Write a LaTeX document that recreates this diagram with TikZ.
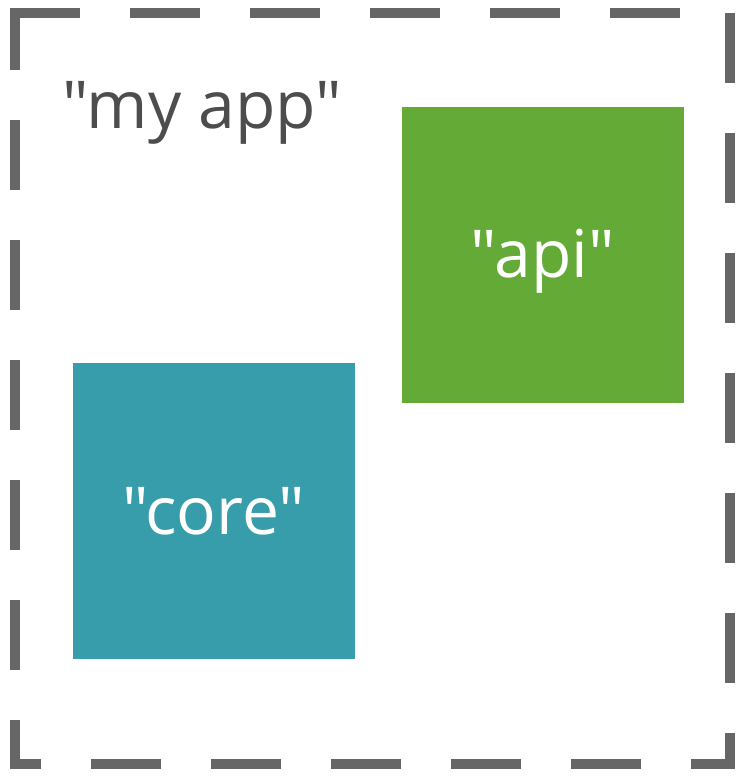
\documentclass[tikz,border=0pt]{standalone}
\usepackage{fontspec}
\setmainfont{Open Sans}[Ligatures=TeXOff]
\usetikzlibrary{positioning}

\definecolor{rimgray}{HTML}{666666}
\definecolor{txtgray}{HTML}{4D4D4D}
\definecolor{apigreen}{HTML}{64AA37}
\definecolor{coreteal}{HTML}{389DAB}

\tikzset{
  rim/.style={draw=rimgray, line width=10pt, line cap=butt,
    dash pattern=on 70pt off 50pt},
  crate/.style={rectangle, inner sep=0pt, minimum width=282pt,
    minimum height=296pt},
  lbl/.style={inner sep=0pt, anchor=base,
    font=\fontsize{66}{74}\selectfont}
}

\begin{document}
\begin{tikzpicture}[x=1pt,y=-1pt]
  \useasboundingbox (0,0) rectangle (746,776);
  % dashed outline, one side at a time
  \foreach \ax/\ay/\bx/\by/\ph in {10/13/725/13/0,
                                   730/13/730/769/0,
                                   10/764/735/764/39,
                                   15/10/15/769/10}{%
    \draw[rim, dash phase=\ph pt] (\ax,\ay) -- (\bx,\by);
  }
  % the two crates
  \node[crate, fill=apigreen] (api) at (543,255) {};
  \node[crate, fill=coreteal] (core) at (214,511) {};
  % labels
  \node[lbl, text=txtgray] (myapp) at (202,128) {"my app"};
  \node[lbl, text=white] (apitxt) at (543,277) {"api"};
  \node[lbl, text=white] (coretxt) at (214,534) {"core"};
\end{tikzpicture}
\end{document}
